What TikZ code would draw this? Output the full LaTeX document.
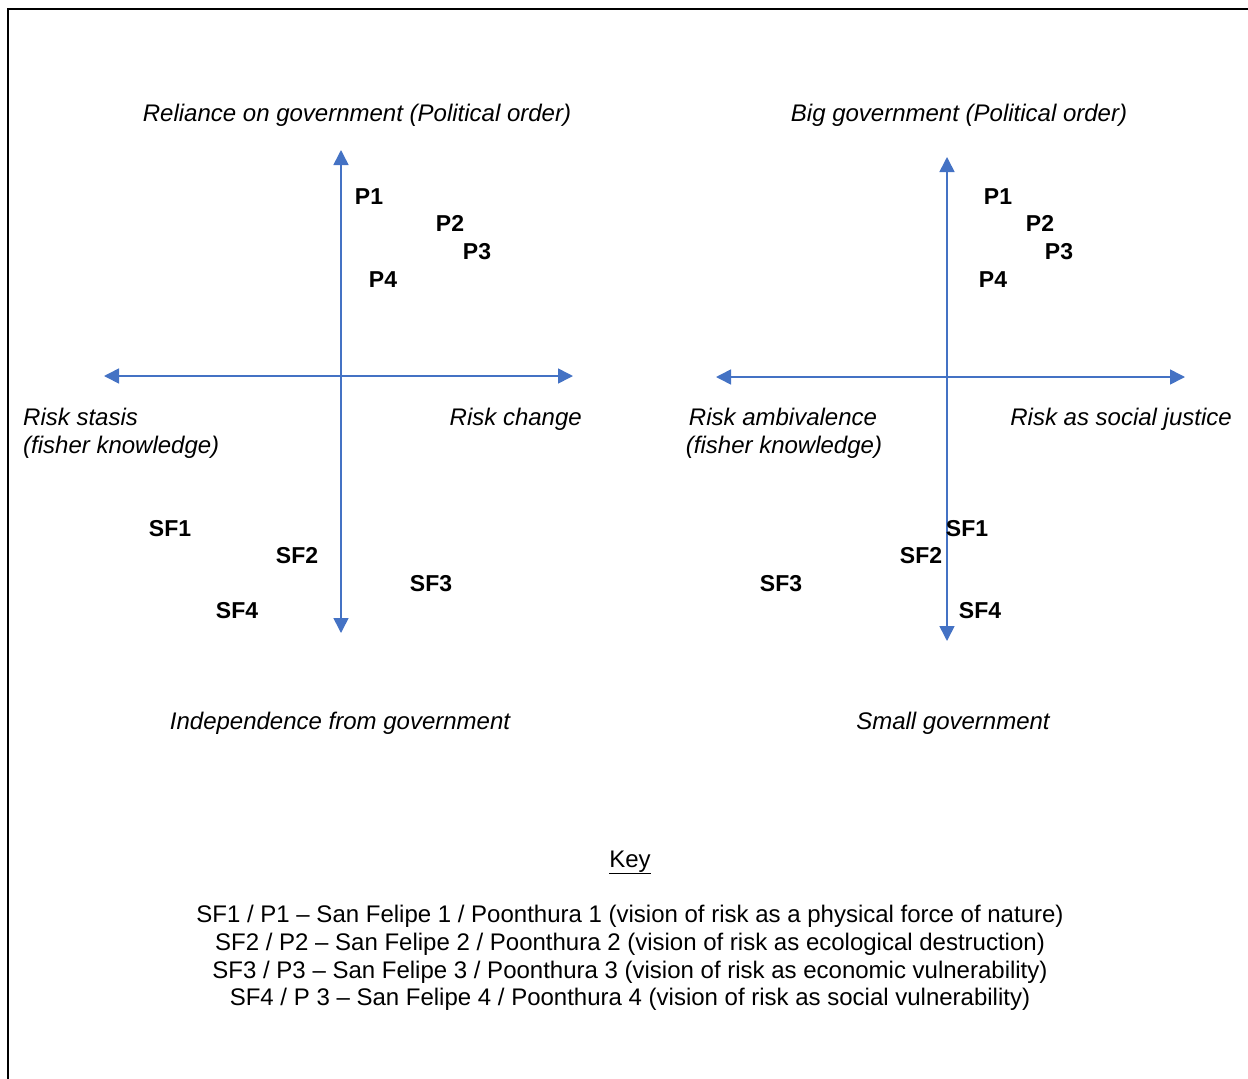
\documentclass[tikz,border=0pt]{standalone}
\usepackage{fontspec}
\setmainfont{Liberation Sans}
\usetikzlibrary{arrows.meta}
\definecolor{axisblue}{HTML}{4472C4}
\begin{document}
\begin{tikzpicture}[x=1pt,y=-1pt,
  axis/.style={draw=axisblue,line width=1.6pt,{Triangle[length=15pt,width=15pt]}-{Triangle[length=15pt,width=15pt]}},
  lbl/.style={font=\fontsize{24}{28}\selectfont\itshape,inner sep=0pt,anchor=base},
  pt/.style={font=\fontsize{23}{28}\selectfont\bfseries,inner sep=0pt,anchor=base},
  keyline/.style={font=\fontsize{24}{28}\selectfont,inner sep=0pt,anchor=base}]
\useasboundingbox (0,0) rectangle (1248,1079);
\clip (0,0) rectangle (1248,1079);
\draw[line width=2.2pt] (8,1100) -- (8,9) -- (1270,9);
% left chart axes
\coordinate (LT) at (341,150);
\coordinate (LB) at (341,633);
\coordinate (LL) at (104,376);
\coordinate (LR) at (573,376);
\draw[axis] (LB) -- (LT);
\draw[axis] (LL) -- (LR);
% right chart axes
\coordinate (RT) at (947,157);
\coordinate (RB) at (947,641);
\coordinate (RL) at (716,377);
\coordinate (RR) at (1185,377);
\draw[axis] (RB) -- (RT);
\draw[axis] (RL) -- (RR);
% left labels
\node[lbl] (ltop) at (357,121.5) {Reliance on government (Political order)};
\node[lbl,anchor=base west] (lleft1) at (23,425.5) {Risk stasis};
\node[lbl,anchor=base west] (lleft2) at (23,453.5) {(fisher knowledge)};
\node[lbl,anchor=base east] (lright) at (582,425.5) {Risk change};
\node[lbl] (lbot) at (340,729.5) {Independence from government};
% right labels
\node[lbl] (rtop) at (959,121.5) {Big government (Political order)};
\node[lbl] (rleft1) at (783,425.5) {Risk ambivalence};
\node[lbl] (rleft2) at (784,453.5) {(fisher knowledge)};
\node[lbl,anchor=base east] (rright) at (1232,425.5) {Risk as social justice};
\node[lbl] (rbot) at (953,729.5) {Small government};
% left points
\node[pt] (lp1) at (369,204) {P1};
\node[pt] (lp2) at (450,231) {P2};
\node[pt] (lp3) at (477,259) {P3};
\node[pt] (lp4) at (383,287) {P4};
\node[pt] (lsf1) at (170,536) {SF1};
\node[pt] (lsf2) at (297,563) {SF2};
\node[pt] (lsf3) at (431,591) {SF3};
\node[pt] (lsf4) at (237,618) {SF4};
% right points
\node[pt] (rp1) at (998,204) {P1};
\node[pt] (rp2) at (1040,231) {P2};
\node[pt] (rp3) at (1059,259) {P3};
\node[pt] (rp4) at (993,287) {P4};
\node[pt] (rsf1) at (967,536) {SF1};
\node[pt] (rsf2) at (921,563) {SF2};
\node[pt] (rsf3) at (781,591) {SF3};
\node[pt] (rsf4) at (980,618) {SF4};
% key
\node[keyline] (key) at (630,867) {\underline{Key}};
\node[keyline] (k1) at (630,922) {SF1 / P1 – San Felipe 1 / Poonthura 1 (vision of risk as a physical force of nature)};
\node[keyline] (k2) at (630,950) {SF2 / P2 – San Felipe 2 / Poonthura 2 (vision of risk as ecological destruction)};
\node[keyline] (k3) at (630,978) {SF3 / P3 – San Felipe 3 / Poonthura 3 (vision of risk as economic vulnerability)};
\node[keyline] (k4) at (630,1005) {SF4 / P 3 – San Felipe 4 / Poonthura 4 (vision of risk as social vulnerability)};
\end{tikzpicture}
\end{document}
